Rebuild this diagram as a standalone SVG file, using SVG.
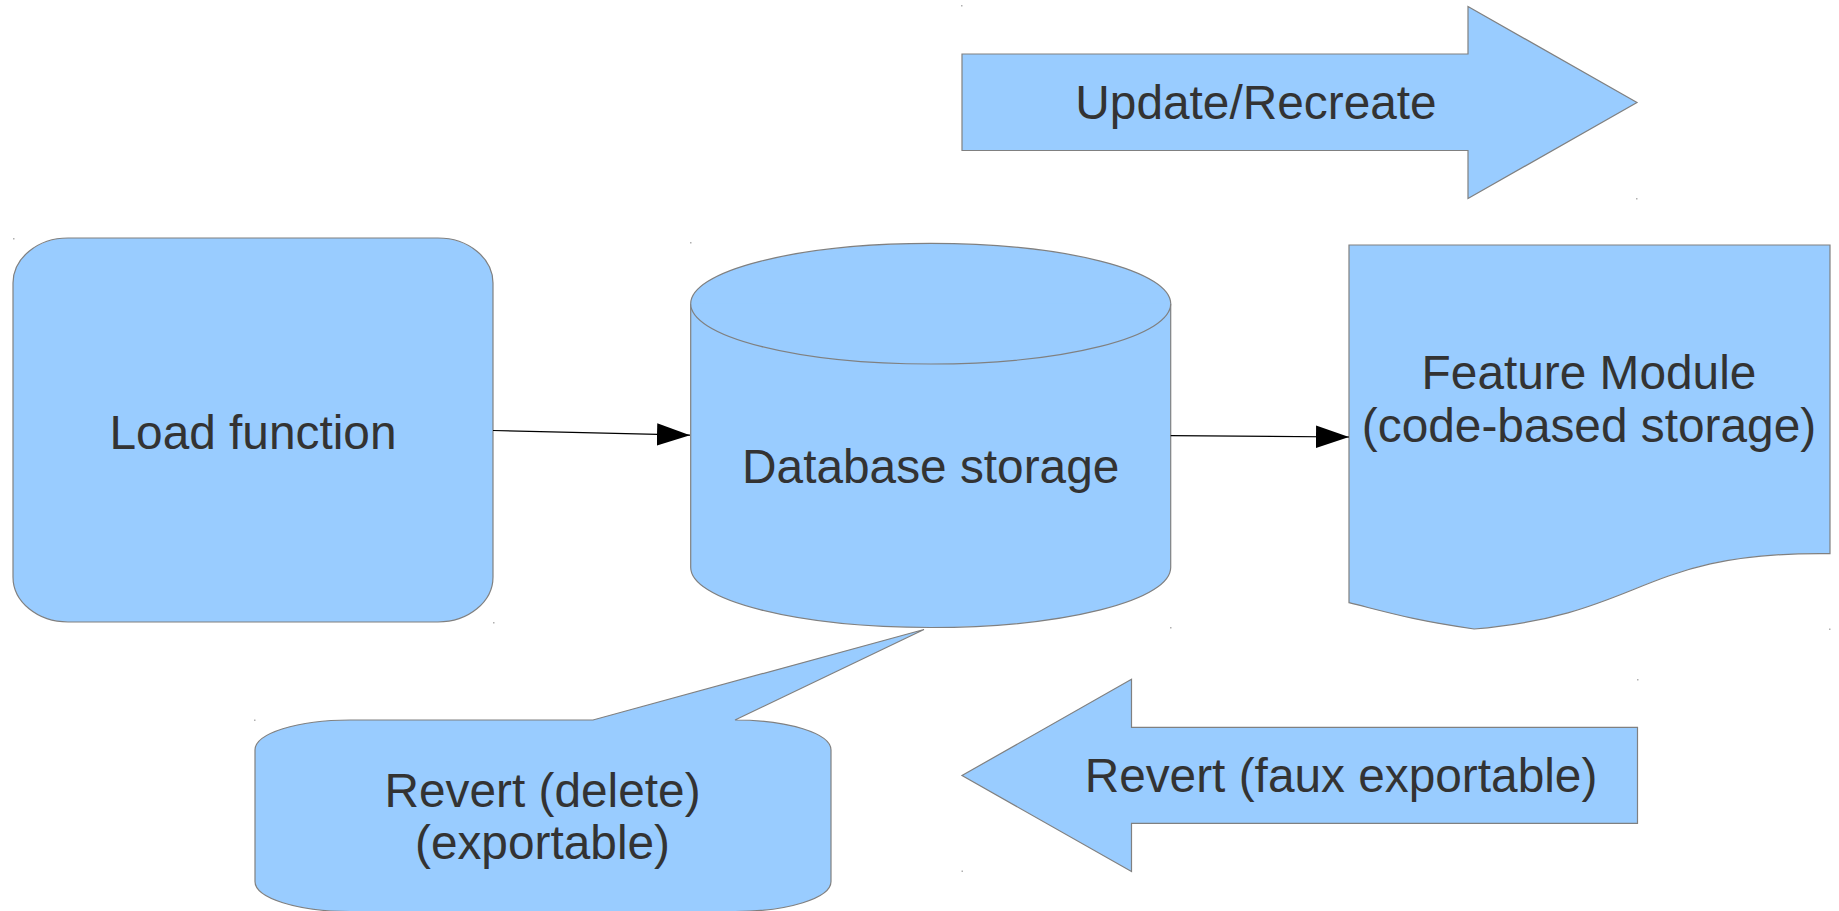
<svg xmlns="http://www.w3.org/2000/svg" width="1839" height="911" viewBox="0 0 1839 911">
<style>
.shape{fill:#99ccff;stroke:#808080;stroke-width:1.2}
.lbl{font-family:"Liberation Sans",Arial,sans-serif;font-size:47.8px;fill:#333333;text-anchor:middle}
.conn{stroke:#000000;stroke-width:1.2;fill:none}
.dot{fill:#b0b0b0}
</style>
<defs>
<marker id="ah" markerUnits="userSpaceOnUse" markerWidth="34" markerHeight="23" refX="33" refY="11.25" orient="auto">
<path d="M0,0 L33,11.25 L0,22.5 Z" fill="#000000"/>
</marker>
</defs>
<rect width="1839" height="911" fill="#ffffff"/>

<g id="update-arrow">
<path class="shape" d="M962,54 L1468,54 L1468,6.5 L1637,102.5 L1468,198.5 L1468,150.5 L962,150.5 Z"/>
<text class="lbl" x="1256" y="118.5">Update/Recreate</text>
<rect class="dot" x="961" y="5" width="1.5" height="1.5"/>
<rect class="dot" x="1636" y="198" width="1.5" height="1.5"/>
</g>

<g id="load-function">
<path class="shape" d="M68,238 L438,238 A55,45 0 0 1 493,283 L493,577 A55,45 0 0 1 438,622 L68,622 A55,45 0 0 1 13,577 L13,283 A55,45 0 0 1 68,238 Z"/>
<text class="lbl" x="253" y="448.5">Load function</text>
<rect class="dot" x="13" y="238" width="1.5" height="1.5"/>
<rect class="dot" x="493" y="622" width="1.5" height="1.5"/>
</g>

<g id="database-storage">
<path class="shape" d="M690.7,303.7 A240,60.3 0 0 1 1170.7,303.7 L1170.7,567.5 A240,60 0 0 1 690.7,567.5 Z"/>
<path class="shape" d="M690.7,303.7 A240,60.3 0 0 0 1170.7,303.7" fill="none"/>
<text class="lbl" x="930.7" y="482.5">Database storage</text>
<rect class="dot" x="690" y="242" width="1.5" height="1.5"/>
<rect class="dot" x="1170" y="627" width="1.5" height="1.5"/>
</g>

<g id="feature-module">
<path class="shape" d="M1349,245 L1830,245 L1830,553.6 C1639.6,551.1 1646.1,614.2 1474.1,629 C1412.7,620.1 1390.2,613 1349,602.7 Z"/>
<text class="lbl" x="1589" y="388.5">Feature Module</text>
<text class="lbl" x="1589" y="442">(code-based storage)</text>
<rect class="dot" x="1829" y="628.5" width="1.5" height="1.5"/>
</g>

<g id="revert-delete">
<path class="shape" d="M350,720 L593,720 L924,629.5 L735,720 A96,30 0 0 1 831,750 L831,881.5 A96,30 0 0 1 735,911.5 L350,911.5 A95,30 0 0 1 255,881.5 L255,750 A95,30 0 0 1 350,720 Z"/>
<text class="lbl" x="542.5" y="806.5">Revert (delete)</text>
<text class="lbl" x="542.5" y="858.5">(exportable)</text>
<rect class="dot" x="254" y="719.5" width="1.5" height="1.5"/>
</g>

<g id="revert-faux-arrow">
<path class="shape" d="M1637.5,727.3 L1131.5,727.3 L1131.5,679.3 L962,775.5 L1131.5,871.5 L1131.5,823.3 L1637.5,823.3 Z"/>
<text class="lbl" x="1341" y="792">Revert (faux exportable)</text>
<rect class="dot" x="1637" y="679" width="1.5" height="1.5"/>
<rect class="dot" x="961.5" y="870.5" width="1.5" height="1.5"/>
</g>

<g id="connectors">
<line class="conn" x1="493" y1="430.5" x2="690" y2="435.2" marker-end="url(#ah)"/>
<line class="conn" x1="1170.7" y1="435.6" x2="1349" y2="437" marker-end="url(#ah)"/>
</g>
</svg>
